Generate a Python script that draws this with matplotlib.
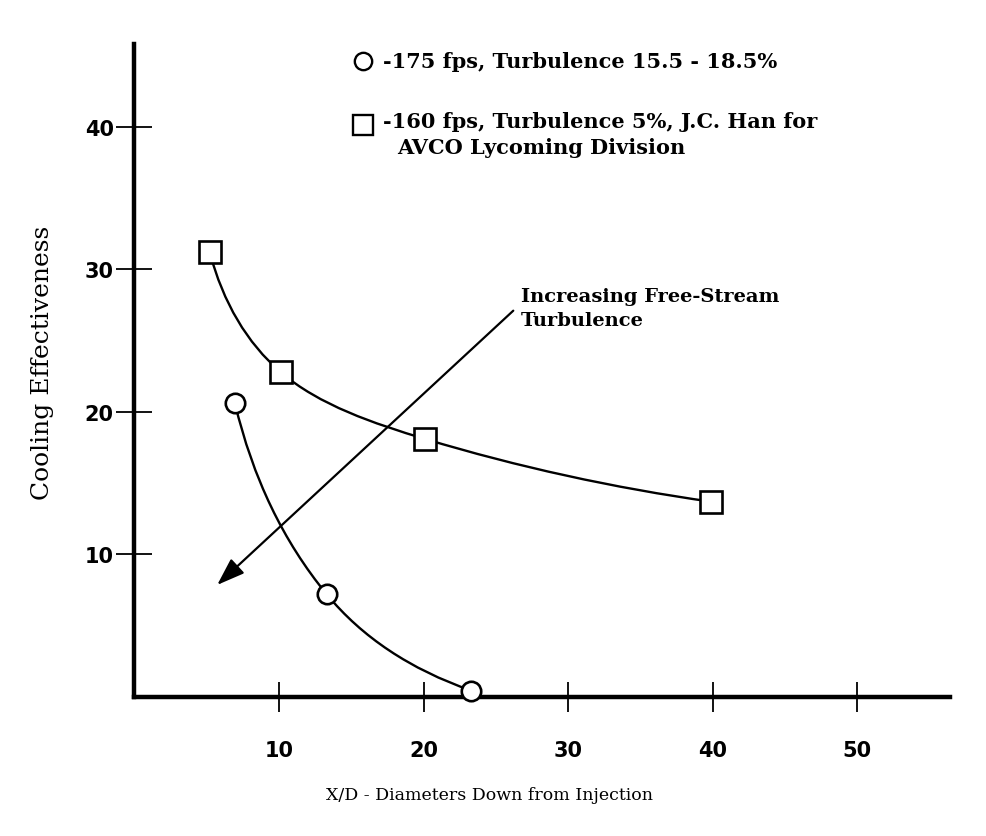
import matplotlib
matplotlib.use("Agg")
import matplotlib.pyplot as plt
import numpy as np
from matplotlib.path import Path
from matplotlib.patches import PathPatch

# data
circ_x = [6.95, 13.3, 23.3]
circ_y = [20.6, 7.2, 0.45]
sq_x = [5.2, 10.1, 20.1, 39.9]
sq_y = [31.2, 22.8, 18.1, 13.7]
xticks = [10, 20, 30, 40, 50]
yticks = [10, 20, 30, 40]

circ_label = "-175 fps, Turbulence 15.5 - 18.5%"
sq_label = "-160 fps, Turbulence 5%, J.C. Han for"
sq_label2 = "AVCO Lycoming Division"

TICKFONT = ["Liberation Sans Narrow", "DejaVu Sans"]
TEXTFONT = ["DejaVu Serif"]


def smooth_path(xs, ys):
    """Chord-length Catmull-Rom curve through the points (cubic Bezier)."""
    p = np.column_stack([xs, ys]).astype(float)
    n = len(p)
    d = np.hypot(*np.diff(p, axis=0).T)
    tang = np.zeros_like(p)
    for i in range(n):
        if i == 0:
            tang[i] = (p[1] - p[0]) / d[0]
        elif i == n - 1:
            tang[i] = (p[-1] - p[-2]) / d[-1]
        else:
            tang[i] = (p[i + 1] - p[i - 1]) / (d[i - 1] + d[i])
    # end tangents bent so the end segments keep a natural curvature
    tang[0] = 2 * (p[1] - p[0]) / d[0] - tang[1] if n > 2 else tang[0]
    tang[-1] = 2 * (p[-1] - p[-2]) / d[-1] - tang[-2] if n > 2 else tang[-1]
    verts = [tuple(p[0])]
    codes = [Path.MOVETO]
    for i in range(n - 1):
        c1 = p[i] + tang[i] * d[i] / 3
        c2 = p[i + 1] - tang[i + 1] * d[i] / 3
        verts += [tuple(c1), tuple(c2), tuple(p[i + 1])]
        codes += [Path.CURVE4] * 3
    return Path(verts, codes)


fig = plt.figure(figsize=(9.86, 8.37), dpi=100)
ax = fig.add_axes([0.1364, 0.1661, 0.827, 0.780])
ax.set_xlim(0, 56.4)
ax.set_ylim(0, 45.8)

for xs, ys in [(circ_x, circ_y), (sq_x, sq_y)]:
    ax.add_patch(PathPatch(smooth_path(xs, ys), fill=False, lw=1.7,
                           color="black", zorder=2, clip_on=False))

ax.plot(circ_x, circ_y, "o", ms=14, mfc="white", mec="black", mew=1.9,
        zorder=4, clip_on=False)
ax.plot(sq_x, sq_y, "s", ms=16, mfc="white", mec="black", mew=1.9,
        zorder=4, clip_on=False)

# arrow
ax.annotate("", xy=(5.72, 7.86), xytext=(26.2, 27.1),
            arrowprops=dict(arrowstyle="-|>,head_length=1.7,head_width=0.6",
                            color="black", lw=1.6, shrinkA=0, shrinkB=0),
            zorder=3)
ax.text(26.75, 27.3, "Increasing Free-Stream\nTurbulence", fontsize=14,
        fontweight="bold", family=TEXTFONT, va="center", ha="left",
        linespacing=1.4)

# legend (drawn by hand)
ax.plot([0.280], [0.974], "o", ms=12.5, mfc="white", mec="black", mew=1.7,
        transform=ax.transAxes, clip_on=False)
ax.plot([0.280], [0.876], "s", ms=14.5, mfc="white", mec="black", mew=1.7,
        transform=ax.transAxes, clip_on=False)
ax.text(0.305, 0.974, circ_label, transform=ax.transAxes, fontsize=15,
        fontweight="bold", family=TEXTFONT, va="center")
ax.text(0.305, 0.882, sq_label, transform=ax.transAxes, fontsize=15,
        fontweight="bold", family=TEXTFONT, va="center")
ax.text(0.322, 0.843, sq_label2, transform=ax.transAxes, fontsize=15,
        fontweight="bold", family=TEXTFONT, va="center")

# axes styling
for s in ["top", "right"]:
    ax.spines[s].set_visible(False)
for s in ["left", "bottom"]:
    ax.spines[s].set_linewidth(3.2)
ax.set_xticks(xticks)
ax.set_yticks(yticks)
ax.tick_params(axis="x", direction="inout", length=22, width=1.3, pad=20)
ax.tick_params(axis="y", direction="inout", length=26, width=1.3, pad=2)
for lab in ax.get_xticklabels() + ax.get_yticklabels():
    lab.set_family(TICKFONT)
    lab.set_fontweight("bold")
    lab.set_fontsize(15)

fig.text(0.043, 0.567, "Cooling Effectiveness", rotation=90, fontsize=18,
         family=TEXTFONT, va="center", ha="center")
fig.text(0.496, 0.050, "X/D - Diameters Down from Injection", fontsize=12.5,
         family=TEXTFONT, va="center", ha="center")

fig.savefig("out.png", dpi=100)
